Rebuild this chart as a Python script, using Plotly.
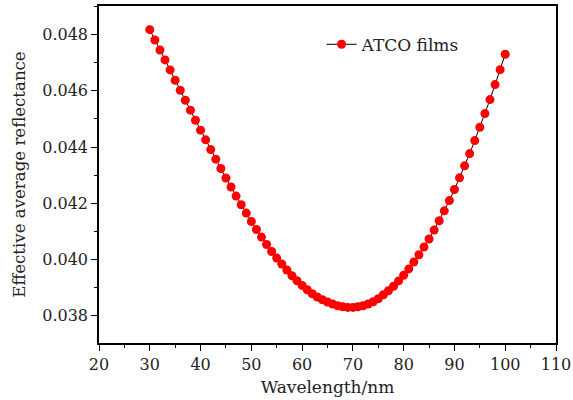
import plotly.graph_objects as go

wavelength = list(range(30, 101))
reflectance = [
    0.048178, 0.047812, 0.047456, 0.047101, 0.046745, 0.046379, 0.046024, 0.045668,
    0.045313, 0.044957, 0.044602, 0.044257, 0.043912, 0.043571, 0.043237, 0.042899,
    0.042579, 0.042256, 0.041947, 0.041652, 0.041353, 0.041069, 0.040799, 0.040535,
    0.040287, 0.040052, 0.039839, 0.039626, 0.039423, 0.039245, 0.039078, 0.038925,
    0.038783, 0.038666, 0.038570, 0.038488, 0.038417, 0.038357, 0.038321, 0.038296,
    0.038296, 0.038321, 0.038357, 0.038417, 0.038499, 0.038605, 0.038748, 0.038890,
    0.039050, 0.039238, 0.039441, 0.039665, 0.039910, 0.040169, 0.040443, 0.040731,
    0.041047, 0.041378, 0.041733, 0.042096, 0.042490, 0.042906, 0.043333, 0.043770,
    0.044232, 0.044708, 0.045192, 0.045690, 0.046223, 0.046756, 0.047303,
]
series_name = "ATCO films"
x_ticks = [20, 30, 40, 50, 60, 70, 80, 90, 100, 110]
y_ticks = [0.038, 0.040, 0.042, 0.044, 0.046, 0.048]

font_family = "DejaVu Serif, Liberation Serif, serif"
text_color = "#222"

fig = go.Figure()
fig.add_trace(go.Scatter(
    x=wavelength, y=reflectance, mode="lines+markers", name=series_name,
    line=dict(color="black", width=1),
    marker=dict(color="#ff0000", size=9, line=dict(width=0)),
))

axis_common = dict(
    showline=True, linecolor="black", linewidth=1.5, mirror=True,
    ticks="outside", ticklen=6, tickwidth=1.2, tickcolor="black",
    showgrid=False, zeroline=False, automargin=False,
    tickfont=dict(family=font_family, size=16, color=text_color),
)

fig.update_layout(
    width=573, height=400,
    margin=dict(l=99, r=17, t=6, b=57),
    plot_bgcolor="white", paper_bgcolor="white",
    font=dict(family=font_family, color=text_color),
    showlegend=True,
    legend=dict(
        x=0.487, y=0.885, xanchor="left", yanchor="middle",
        bgcolor="rgba(0,0,0,0)", font=dict(family=font_family, size=17, color=text_color),
    ),
    xaxis=dict(
        range=[20, 110], tickvals=x_ticks, ticktext=[str(v) for v in x_ticks],
        minor=dict(ticks="outside", ticklen=3.5, tickwidth=1, tickcolor="black", dtick=5, tick0=20),
        title=dict(text="Wavelength/nm", font=dict(family=font_family, size=17, color=text_color), standoff=8),
        **axis_common,
    ),
    yaxis=dict(
        range=[0.03703, 0.04902], tickvals=y_ticks, ticktext=[f"{v:.3f}" for v in y_ticks],
        minor=dict(ticks="outside", ticklen=3.5, tickwidth=1, tickcolor="black", dtick=0.001, tick0=0.037),
        title=dict(text="Effective average reflectance", font=dict(family=font_family, size=16.6, color=text_color), standoff=12),
        **axis_common,
    ),
)

fig.write_html(
    "out.html",
    config={"displayModeBar": False},
    post_script="document.body.style.margin='0';document.body.style.overflow='hidden';",
)
